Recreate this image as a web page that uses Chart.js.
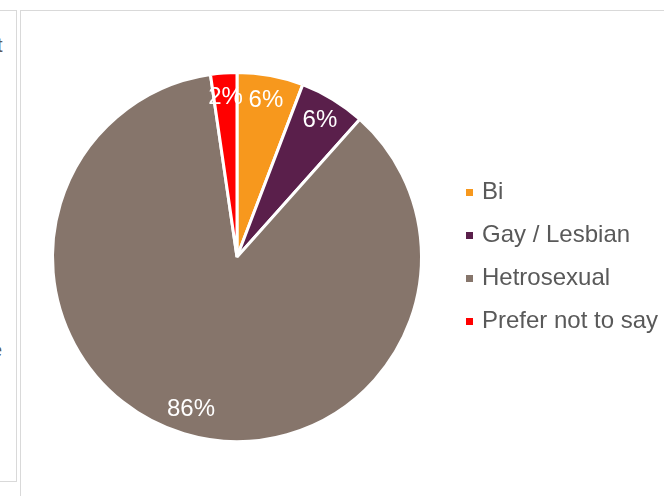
<!DOCTYPE html>
<html lang="en">
<head>
    <meta charset="UTF-8">
    <title>Sexual orientation</title>
    <script src="https://cdn.jsdelivr.net/npm/chart.js"></script>
    <style>
        body {
            margin: 0;
            width: 664px;
            height: 496px;
            overflow: hidden;
            background: #fff;
            font-family: "Liberation Sans", Arial, sans-serif;
            position: relative;
        }
        .panel-left {
            position: absolute;
            left: -10px;
            top: 10px;
            width: 25px;
            height: 470px;
            border: 1px solid #d9d9d9;
        }
        .panel-main {
            position: absolute;
            left: 20px;
            top: 10px;
            width: 660px;
            height: 500px;
            border: 1px solid #d9d9d9;
        }
        .frag {
            position: absolute;
            color: #595959;
            font-size: 20px;
            line-height: 1;
        }
        canvas {
            position: absolute;
            left: 0;
            top: 0;
        }
    </style>
</head>
<body>
    <div class="panel-left"></div>
    <div class="panel-main"></div>
    <div class="frag" style="left:-3px; top:35px;">t</div>
    <div class="frag" style="left:-9px; top:340px;">e</div>
    <canvas id="pie" width="664" height="496"></canvas>
    <script>
        const categories = ['Bi', 'Gay / Lesbian', 'Hetrosexual', 'Prefer not to say'];
        const shares = [5.8, 5.8, 86.1, 2.3];
        const shareLabels = ['6%', '6%', '86%', '2%'];
        const colours = ['#F7981D', '#5A1F4B', '#86756B', '#FF0000'];

        const sliceLabels = {
            id: 'sliceLabels',
            afterDatasetsDraw(chart) {
                const ctx = chart.ctx;
                const meta = chart.getDatasetMeta(0);
                ctx.save();
                ctx.font = '24px "Liberation Sans", Arial, sans-serif';
                ctx.fillStyle = '#ffffff';
                ctx.textAlign = 'center';
                ctx.textBaseline = 'middle';
                meta.data.forEach((arc, i) => {
                    const mid = (arc.startAngle + arc.endAngle) / 2;
                    const r = arc.outerRadius * 0.865;
                    ctx.fillText(shareLabels[i], arc.x + Math.cos(mid) * r, arc.y + Math.sin(mid) * r);
                });
                ctx.restore();
            }
        };

        const sideLegend = {
            id: 'sideLegend',
            afterDraw(chart) {
                const ctx = chart.ctx;
                ctx.save();
                ctx.font = '24px "Liberation Sans", Arial, sans-serif';
                ctx.textBaseline = 'middle';
                categories.forEach((name, i) => {
                    const y = 192 + i * 43;
                    ctx.fillStyle = colours[i];
                    ctx.fillRect(466, y - 3, 7, 7);
                    ctx.fillStyle = '#595959';
                    ctx.fillText(name, 482, y);
                });
                ctx.restore();
            }
        };

        new Chart(document.getElementById('pie'), {
            type: 'pie',
            data: {
                labels: categories,
                datasets: [{
                    data: shares,
                    backgroundColor: colours,
                    borderColor: '#ffffff',
                    borderWidth: 3
                }]
            },
            options: {
                responsive: false,
                animation: false,
                layout: { padding: { left: 51, top: 71, right: 241, bottom: 53 } },
                plugins: {
                    legend: { display: false },
                    tooltip: { enabled: false }
                }
            },
            plugins: [sliceLabels, sideLegend]
        });
    </script>
</body>
</html>
